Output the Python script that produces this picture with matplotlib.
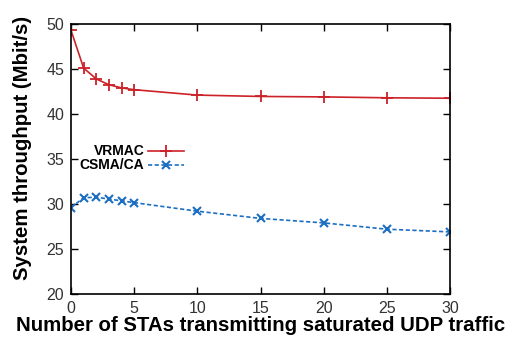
import matplotlib
matplotlib.use('Agg')
import matplotlib.pyplot as plt

stas = [0, 1, 2, 3, 4, 5, 10, 15, 20, 25, 30]
vrmac = [49.3, 45.1, 43.9, 43.25, 42.9, 42.7, 42.1, 41.95, 41.9, 41.8, 41.75]
csma = [29.6, 30.7, 30.75, 30.55, 30.35, 30.15, 29.2, 28.4, 27.9, 27.2, 26.9]

plt.rcParams['font.family'] = ['Liberation Sans', 'DejaVu Sans']

fig = plt.figure(figsize=(5.15, 3.38), dpi=100)
ax = fig.add_axes([71/515, 44/338, 379/515, 270/338])

ax.plot(stas, vrmac, '-', color='#cc2229', marker='+', markersize=8,
        markeredgewidth=1.3, linewidth=1.2, label='VRMAC')
ax.plot(stas, csma, '--', color='#1b6ec2', marker='x', markersize=6,
        markeredgewidth=1.5, linewidth=1.2, dashes=(2.5, 1.5), label='CSMA/CA')

ax.set_xlim(0, 30)
ax.set_ylim(20, 50)
ax.set_xticks([0, 5, 10, 15, 20, 25, 30])
ax.set_yticks([20, 25, 30, 35, 40, 45, 50])
ax.tick_params(direction='in', top=True, right=True, length=5, width=1,
               labelsize=11.5, labelcolor='#333333', pad=5)
for s in ax.spines.values():
    s.set_linewidth(1.2)

ax.set_xlabel('Number of STAs transmitting saturated UDP traffic',
              fontsize=14.7, fontweight='bold', labelpad=0)
ax.set_ylabel('System throughput (Mbit/s)', fontsize=14.7, fontweight='bold')
ax.yaxis.set_label_coords(-0.103, 0.54)

leg = ax.legend(loc='upper left', bbox_to_anchor=(-0.003, 0.59), frameon=False,
                markerfirst=False, handlelength=2.6, handletextpad=0.3,
                labelspacing=0.0, borderpad=0.2,
                prop={'weight': 'bold', 'size': 10})
for t in leg.get_texts():
    t.set_ha('right')

fig.savefig('out.png', dpi=100)
